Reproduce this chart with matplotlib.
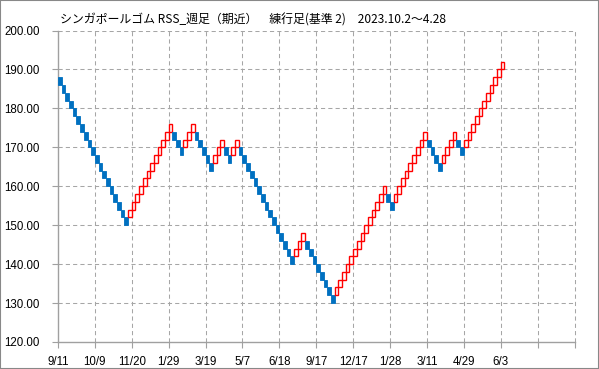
import matplotlib
matplotlib.use('Agg')
import matplotlib.pyplot as plt
from matplotlib.patches import Rectangle

# ---- data (box size 2) ----
box_size = 2
start_top = 188
run_dirs = [-1, 1, -1, 1, -1, 1, -1, 1, -1, 1, -1, 1, -1, 1, -1, 1, -1, 1]
run_counts = [19, 12, 3, 3, 5, 3, 2, 2, 15, 3, 8, 14, 2, 9, 4, 4, 2, 11]
x_labels = ['9/11', '10/9', '11/20', '1/29', '3/19', '5/7', '6/18', '9/17',
            '12/17', '1/28', '3/11', '4/29', '6/3', '', '']
y_ticks = [120, 130, 140, 150, 160, 170, 180, 190, 200]
title = 'シンガポールゴム RSS_週足（期近）　練行足(基準 2)　2023.10.2～4.28'

# ---- build bricks (low, high, direction) ----
bricks = []
prev_low, prev_high = start_top - box_size, start_top
first = True
for d, n in zip(run_dirs, run_counts):
    for _ in range(n):
        if first:
            low, high = start_top - box_size, start_top
            first = False
        elif d > 0:
            low, high = prev_high, prev_high + box_size
        else:
            low, high = prev_low - box_size, prev_low
        bricks.append((low, high, d))
        prev_low, prev_high = low, high

fig = plt.figure(figsize=(5.99, 3.69), dpi=100)
fig.patch.set_facecolor('white')
ax = fig.add_axes([58.0 / 599, 1 - 342 / 369, (574.5 - 58.0) / 599, (342 - 30.5) / 369])

for i, (low, high, d) in enumerate(bricks):
    if d > 0:
        ax.add_patch(Rectangle((i, low), 1, high - low, facecolor='none',
                               edgecolor='#FF0000', linewidth=1.0, zorder=3))
    else:
        ax.add_patch(Rectangle((i, low), 1, high - low, facecolor='#0070C0',
                               edgecolor='#0070C0', linewidth=0.6, zorder=3))

ax.set_xlim(0, 140)
ax.set_ylim(120, 200)
ax.set_yticks(y_ticks)
ax.set_yticklabels([f'{v:.2f}' for v in y_ticks])
ax.set_xticks(range(0, 141, 10))
ax.set_xticklabels(x_labels)

grid_kw = dict(color='#A6A6A6', linewidth=0.75, linestyle=(0, (4, 3)))
for v in y_ticks[1:]:
    ax.axhline(v, zorder=1, **grid_kw)
for x in range(10, 141, 10):
    ax.axvline(x, zorder=1, clip_on=False, **grid_kw)

for s in ['top', 'right']:
    ax.spines[s].set_visible(False)
for s in ['left', 'bottom']:
    ax.spines[s].set_color('#A0A0A0')
    ax.spines[s].set_linewidth(1.0)

ax.tick_params(axis='both', colors='#A0A0A0', length=4, width=0.8,
               labelcolor='black', labelsize=8.3)
ax.tick_params(axis='y', pad=9)
ax.tick_params(axis='x', pad=6)
for lab in ax.get_xticklabels() + ax.get_yticklabels():
    lab.set_fontfamily('Liberation Sans')

fig.text(60 / 599, 1 - 20 / 369, title, fontsize=8.6, va='center', ha='left',
         family=['Noto Sans CJK JP', 'DejaVu Sans'])

fig.patches.append(Rectangle((0, 0), 1, 1, transform=fig.transFigure,
                             fill=False, edgecolor='#888888', linewidth=1.5))

fig.savefig('out.png', dpi=100)
